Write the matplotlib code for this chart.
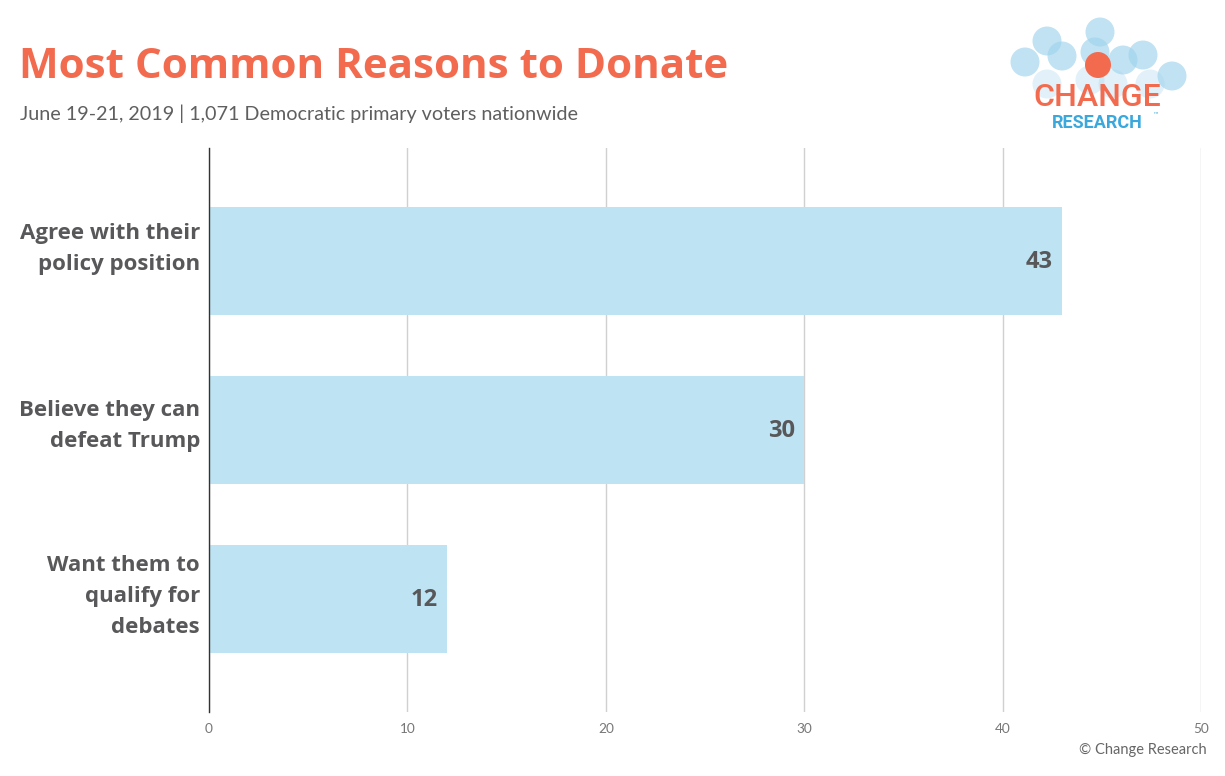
import matplotlib
matplotlib.use("Agg")
import matplotlib.pyplot as plt
from matplotlib.patches import Circle

categories = ["Agree with their\npolicy position", "Believe they can\ndefeat Trump", "Want them to\nqualify for\ndebates"]
values = [43, 30, 12]
xticks = [0, 10, 20, 30, 40, 50]

title = "Most Common Reasons to Donate"
subtitle = "June 19-21, 2019 | 1,071 Democratic primary voters nationwide"
credit = "\u00a9 Change Research"

ORANGE = "#F26B4F"
BAR = "#BEE3F2"
TEXT = "#58585A"
FONT = ["Open Sans", "DejaVu Sans"]
FONT2 = ["Lato", "DejaVu Sans"]

W, H = 1225, 776
fig = plt.figure(figsize=(W / 100, H / 100), dpi=100)
fig.patch.set_facecolor("white")

def px(x0, y0, x1, y1):
    return [x0 / W, 1 - y1 / H, (x1 - x0) / W, (y1 - y0) / H]

ax = fig.add_axes(px(209, 148, 1201, 712))
ypos = list(range(len(categories)))
ax.barh(ypos, values, height=0.64, color=BAR, zorder=2)
ax.set_ylim(len(categories) - 1 + 0.67, -0.67)
ax.set_xlim(0, 50)
ax.set_xticks(xticks)
ax.set_xticklabels([str(t) for t in xticks], family=FONT2, fontsize=9.8, color="#777777")
ax.set_yticks(ypos)
ax.set_yticklabels([])
ax.tick_params(axis="y", length=0)
ax.tick_params(axis="x", length=0, pad=8)
ax.grid(axis="x", color="#D0D0D0", linewidth=1, zorder=0)
for s in ["top", "right", "bottom"]:
    ax.spines[s].set_visible(False)
ax.spines["left"].set_color("#333333")
ax.spines["left"].set_linewidth(1)
ax.spines["left"].set_zorder(3)
label_shift = [9, 3, 2]  # points upward
for y, c, dy in zip(ypos, categories, label_shift):
    ax.annotate(c, xy=(0, y), xycoords=("axes fraction", "data"), xytext=(-6.5, dy),
                textcoords="offset points", ha="right", va="center", family=FONT,
                fontweight="bold", fontsize=16, color=TEXT, linespacing=1.62)
for y, v in zip(ypos, values):
    ax.annotate(str(v), xy=(v, y), xytext=(-6.5, -0.5), textcoords="offset points",
                ha="right", va="center", family=FONT, fontweight="bold",
                fontsize=17, color=TEXT, zorder=4)

# Overlay for titles / logo in pixel coordinates
ov = fig.add_axes([0, 0, 1, 1], zorder=5)
ov.set_xlim(0, W)
ov.set_ylim(H, 0)
ov.axis("off")
ov.patch.set_alpha(0)

ov.text(19, 78, title, family=FONT, fontweight="bold", fontsize=30.3, color=ORANGE, va="baseline")
ov.text(20, 120, subtitle, family=FONT2, fontsize=14.2, color="#5F5F5F", va="baseline")
ov.text(1207, 750, credit, family=FONT2, fontsize=10.5, color="#666666", ha="right", va="center")

# logo
blue_circles = [(1025, 62), (1047, 41), (1062, 56), (1100, 32), (1095, 52),
                (1123, 60), (1143, 55), (1172, 76)]
faded = [(1047, 84), (1113, 84), (1150, 84), (1090, 80)]
for (cx, cy) in blue_circles:
    ov.add_patch(Circle((cx, cy), 14.5, color="#9FD3EC", alpha=0.65, lw=0))
for (cx, cy) in faded:
    ov.add_patch(Circle((cx, cy), 14.5, color="#9FD3EC", alpha=0.3, lw=0))
ov.add_patch(Circle((1098, 65), 13, color=ORANGE, lw=0, zorder=3))
ov.text(1097, 98, "CHANGE", family=["Roboto", "DejaVu Sans"], fontweight="medium", fontsize=23,
        color=ORANGE, ha="center", va="center", zorder=4)
ov.text(1097, 123, "RESEARCH", family=["Roboto", "DejaVu Sans"], fontweight="bold", fontsize=13,
        color="#3AA8DC", ha="center", va="center", zorder=4)
ov.text(1152, 115, "\u2122", family=["DejaVu Sans"], fontsize=4.5, color="#3AA8DC",
        ha="left", va="center", zorder=4)

fig.savefig("out.png", dpi=100, facecolor="white")
